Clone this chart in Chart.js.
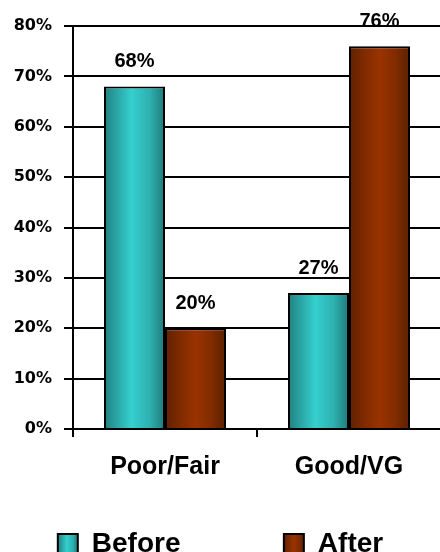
<!DOCTYPE html>
<html><head><meta charset="utf-8">
<style>
html,body{margin:0;padding:0;overflow:hidden;background:#fff;width:440px;height:552px}
#wrap{position:absolute;left:0;top:0;width:441px;height:568px}
</style>
<script src="https://cdn.jsdelivr.net/npm/chart.js@4/dist/chart.umd.min.js"></script>
</head><body><div id="wrap"><canvas id="c"></canvas></div>
<script>
const categories = ['Poor/Fair', 'Good/VG'];
const seriesNames = ['Before', 'After'];
const beforeValues = [68, 27];
const afterValues = [20, 76];
const yTicks = [0, 10, 20, 30, 40, 50, 60, 70, 80];

const tealStops = [[0, '#227f7f'], [0.2, '#2aa3a3'], [0.45, '#35cfcf'], [0.75, '#2eb0b0'], [1, '#1f7a7a']];
const brownStops = [[0, '#5e2200'], [0.25, '#7f2a00'], [0.5, '#993300'], [0.75, '#822c00'], [1, '#5a2000']];
const CAT_PCT = 0.663, BAR_PCT = 1;

function makeGrad(ctx2d, x0, x1, stops) {
  const g = ctx2d.createLinearGradient(x0, 0, x1, 0);
  stops.forEach(s => g.addColorStop(s[0], s[1]));
  return g;
}
function barFill(stops) {
  return function (c) {
    const chart = c.chart, xs = chart.scales && chart.scales.x;
    if (!xs || c.dataIndex === undefined || !xs.width) return stops[2][1];
    const n = chart.data.datasets.length;
    const center = xs.getPixelForValue(c.dataIndex);
    const catW = xs.width / categories.length;
    const groupW = catW * CAT_PCT;
    const slot = groupW / n;
    const barW = slot * BAR_PCT;
    const left = center - groupW / 2 + c.datasetIndex * slot + (slot - barW) / 2;
    return makeGrad(chart.ctx, left, left + barW, stops);
  };
}

const valueLabels = {
  id: 'valueLabels',
  afterDatasetsDraw(chart) {
    const ctx = chart.ctx;
    ctx.save();
    ctx.font = 'bold 20px "Liberation Sans", Arial, sans-serif';
    ctx.fillStyle = '#000';
    ctx.textAlign = 'center';
    ctx.textBaseline = 'alphabetic';
    chart.data.datasets.forEach((ds, di) => {
      chart.getDatasetMeta(di).data.forEach((el, i) => {
        ctx.fillText(ds.data[i] + '%', el.x, el.y - 19);
      });
    });
    ctx.restore();
  }
};

const legendGrad = {
  id: 'legendGrad',
  beforeDraw(chart) {
    const lg = chart.legend;
    if (!lg || !lg.legendItems) return;
    const bw = lg.options.labels.boxWidth;
    lg.legendItems.forEach((it, i) => {
      const hb = lg.legendHitBoxes[i];
      if (!hb) return;
      it.fillStyle = makeGrad(chart.ctx, hb.left, hb.left + bw, i === 0 ? tealStops : brownStops);
    });
  }
};

const pad = ' '.repeat(12);

new Chart(document.getElementById('c'), {
  type: 'bar',
  data: {
    labels: categories,
    datasets: [
      { label: seriesNames[0], data: beforeValues, backgroundColor: barFill(tealStops),
        borderColor: '#000', borderWidth: 2, categoryPercentage: CAT_PCT, barPercentage: BAR_PCT },
      { label: seriesNames[1], data: afterValues, backgroundColor: barFill(brownStops),
        borderColor: '#000', borderWidth: 2, categoryPercentage: CAT_PCT, barPercentage: BAR_PCT }
    ]
  },
  options: {
    responsive: true,
    maintainAspectRatio: false,
    animation: false,
    layout: { padding: { top: 26, left: 0, right: 0, bottom: 0 } },
    plugins: {
      tooltip: { enabled: false },
      legend: {
        position: 'bottom',
        labels: {
          boxWidth: 20, boxHeight: 20, padding: 10, color: '#000',
          font: { family: '"Liberation Sans", Arial, sans-serif', size: 28, weight: 'bold' },
          generateLabels(chart) {
            return chart.data.datasets.map((ds, i) => ({
              text: i === 0 ? ds.label + pad : ds.label,
              fillStyle: i === 0 ? tealStops[2][1] : brownStops[2][1],
              strokeStyle: '#000', lineWidth: 2, datasetIndex: i, hidden: false
            }));
          }
        }
      }
    },
    scales: {
      x: {
        afterFit(axis) { axis.height += 23; },
        grid: { display: true, drawOnChartArea: false, drawTicks: true, tickLength: 8, color: '#000', lineWidth: 2, offset: true },
        border: { display: true, color: '#000', width: 2 },
        ticks: { color: '#000', padding: 15, font: { family: '"Liberation Sans", Arial, sans-serif', size: 25, weight: 'bold' } }
      },
      y: {
        min: 0, max: 80,
        afterBuildTicks(axis) { axis.ticks = yTicks.map(v => ({ value: v })); },
        afterFit(axis) { axis.width = 73; },
        grid: { color: '#000', lineWidth: 2, tickLength: 9, drawTicks: true },
        border: { display: true, color: '#000', width: 2 },
        ticks: { color: '#000', padding: 12, callback: v => v + '%',
          font: { family: '"DejaVu Sans", Verdana, sans-serif', size: 16, weight: 'bold' } }
      }
    }
  },
  plugins: [valueLabels, legendGrad]
});
</script>
</body></html>
